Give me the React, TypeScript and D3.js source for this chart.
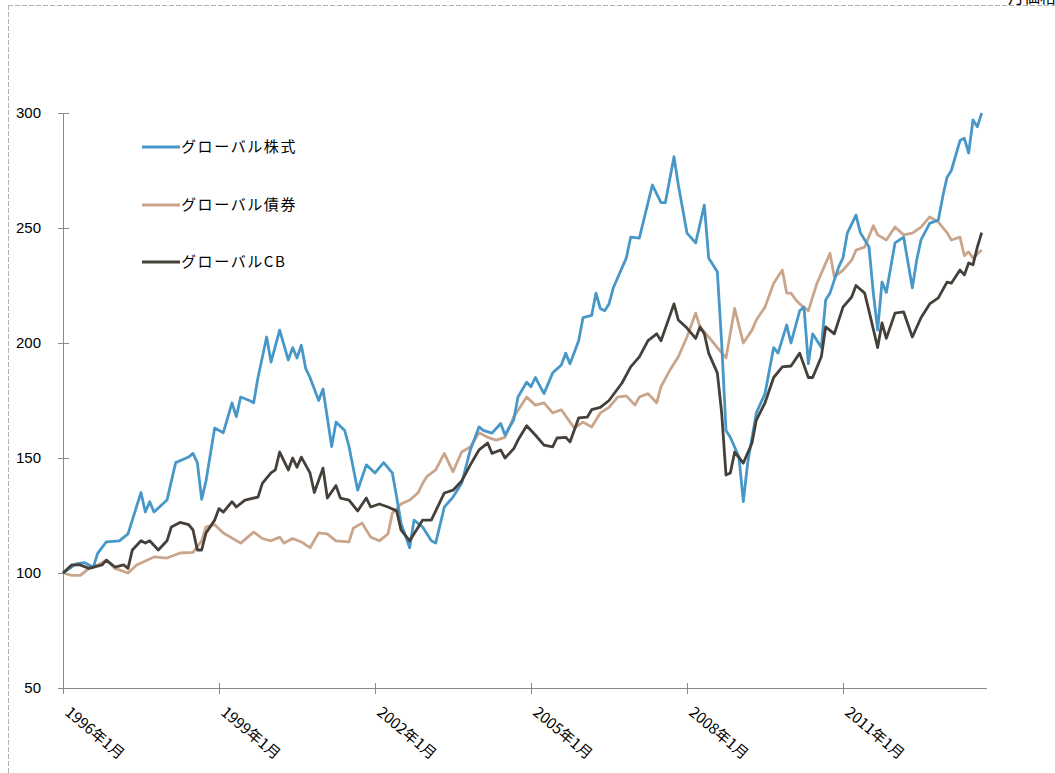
import React from "react";
import * as d3 from "d3";

// months counted from 1996年1月
const equityMonths = [0,3,5,7,8,10,13,15,18,19,20,21,24,26,29,30,31,32,33,35,37,39,40,41,43,44,45,47,48,50,52,53,54,55,56,57,59,60,62,63,65,66,68,70,72,74,76,77,78,80,81,83,85,86,88,90,92,94,96,97,99,101,102,104,105,107,108,109,111,113,115,116,117,119,120,122,123,124,125,126,127,130,131,133,136,138,139,141,142,144,146,148,149,151,152,153,154,156,157,158,160,162,164,165,167,168,170,171,172,173,175,176,177,179,180,181,183,184,186,187,188,189,190,192,194,196,197,198,200,202,203,204,205,207,208,209,210,211,212];
const equityValues = [100,104,104.5,102.5,108.5,113.5,114,117,135,126.5,131,126.5,131.7,148,150.4,152,148,132,140,163,161,174,168,176.5,175,174,185,202.6,191.7,205.6,192.6,198,193.5,199,189,185,175,180,155,165.6,162,155,136,147,143.5,148,143.5,133,121.7,111,123,120,114,113,128.7,133,139,153.5,163.5,162,160.8,165,160,166.5,176.5,183,181,185,178,187,190.4,195.6,191,201,211,212,221.7,215,214,217,224,237,246,245.6,268.7,261,261,281,268.7,247.8,243.5,260,237,231,200,162,159,150.4,131,147.8,169.6,178,198,195.6,207.8,200,214,215.6,191,204,198,218.7,221.7,233,237,247.8,255.6,248,241.7,221.7,205.6,226.5,222,243.5,246,224,236,244.8,252,253.5,263.5,272,275,288,289,282.6,297,294,300];

const bondMonths = [0,2,4,6,8,10,12,15,17,21,24,27,30,32,33,35,37,41,44,46,48,50,51,53,55,57,59,61,63,66,67,69,71,73,75,76,78,80,82,83,84,86,88,90,92,94,96,98,100,102,104,107,109,111,113,115,118,120,122,124,126,128,130,132,133,135,137,138,140,142,144,146,147,149,151,153,155,157,159,160,162,164,166,167,168,169,170,172,174,177,178,180,182,183,185,187,188,190,192,194,196,198,200,202,204,205,207,208,209,210,212];
const bondValues = [100,99,99,102,103.5,105.6,102,100,103.5,107,106.5,108.7,109,114,120,121,117.4,113,117.8,115,114,115.6,113,115,113.5,111,117.4,117,114,113.5,119.5,121.7,115.6,114,117,126,130,131.7,135,139,142,144.8,152,144,152.6,154.8,161,159,157.8,159,167.8,176.5,173,174,169.6,171,163,165.6,163.5,169.6,172,176.5,177,173,176.5,178,174,181,188,194,202.6,213,207,202.6,198,193.5,215,200,205.6,210,215.6,226,231.7,221.7,221.7,219,217,214,226,239,228.7,231.7,236,240.4,241.7,251,247,244.8,250.4,247,247.8,250.4,254.8,252.6,248,244.8,246,238,239.6,237,240.4];

const cbMonths = [0,2,4,6,9,10,12,14,15,16,18,19,20,22,24,25,27,29,30,31,32,33,35,36,37,39,40,42,45,46,48,49,50,52,53,54,55,57,58,60,61,63,64,66,68,70,71,73,75,77,78,80,82,83,85,88,90,92,94,96,98,99,101,102,104,105,107,109,111,113,114,116,117,119,121,122,124,126,129,131,133,135,137,138,141,142,144,146,147,148,149,151,152,153,154,155,157,159,160,162,164,166,168,170,172,173,175,176,178,180,182,183,185,186,188,189,190,192,194,196,198,200,202,204,205,207,208,209,210,211,212];
const cbValues = [100,103.5,103.5,102,103.5,105.6,102.6,103.5,102,110,114,113,114,110,114,120,122,121,118.7,110,110,117.4,123,128,126.5,131,128.7,131.7,133,139,143.5,144.8,152.6,144.8,150,146,150.4,143.5,135,145.6,132.6,138,132.6,131.7,127,132.6,128.7,130,128.7,127,118.7,114,120,123,123,134.8,136,140,147,153.5,156.5,152,153.5,150,154,157.8,164,160,155.6,154.8,158.7,159,157,167.4,167.8,171,172,175,182.6,189.6,194,201,204,201,217,210,206.5,202,207,204,195.6,187,169.6,142.6,143.5,152.6,147.8,156.5,166.5,174,185,189.6,190,195.6,185,185,194,207,204,215.6,220,225,221.7,214,198,208.7,202,213,213.5,202.6,211,217,219.6,226.5,226,231.7,229.6,234.8,234,241.7,248];

const seriesNames = ["グローバル株式", "グローバル債券", "グローバルCB"];
const seriesColors = ["#4798c8", "#c9a68b", "#45403a"];
const yTicks = [50, 100, 150, 200, 250, 300];
const xTickMonths = [0, 36, 72, 108, 144, 180];
const xTickLabels = ["1996年1月", "1999年1月", "2002年1月", "2005年1月", "2008年1月", "2011年1月"];

const W = 1055, H = 773;

export default function App() {
  const x = d3.scaleLinear().domain([0, 213]).range([63, 986]);
  const y = d3.scaleLinear().domain([50, 300]).range([688, 113]);
  const line = d3.line<[number, number]>().x(d => x(d[0])).y(d => y(d[1]));
  const series = [
    d3.zip(equityMonths, equityValues) as [number, number][],
    d3.zip(bondMonths, bondValues) as [number, number][],
    d3.zip(cbMonths, cbValues) as [number, number][],
  ];
  const font = "'Liberation Sans', 'Noto Sans CJK JP', sans-serif";
  const jfont = "'Noto Sans CJK JP', 'Liberation Sans', sans-serif";
  const legendY = [147, 205, 262];
  const drawOrder = [1, 0, 2];
  return (
    <svg width={W} height={H} style={{ position: "absolute", left: 0, top: 0, background: "#fff" }}>
      {/* frame */}
      <line x1={8} x2={W} y1={5.5} y2={5.5} stroke="#b0b0b0" strokeDasharray="5 2" />
      <line x1={8.5} x2={8.5} y1={5} y2={H} stroke="#b0b0b0" strokeDasharray="5 2" />
      <text x={1008} y={3} fontFamily={jfont} fontSize={16} fill="#000">月価格</text>

      {/* y axis */}
      <line x1={63.5} x2={63.5} y1={y(300)} y2={y(50)} stroke="#8a8a8a" />
      {yTicks.map(t => (
        <g key={t}>
          <line x1={58} x2={69} y1={Math.round(y(t)) + 0.5} y2={Math.round(y(t)) + 0.5} stroke="#8a8a8a" />
          <text x={41} y={y(t)} dy="0.36em" textAnchor="end" fontFamily={font} fontSize={15} fill="#000">{t}</text>
        </g>
      ))}

      {/* x axis */}
      <line x1={63} x2={987} y1={688.5} y2={688.5} stroke="#8a8a8a" />
      {xTickMonths.map((m, i) => (
        <g key={m}>
          <line x1={Math.round(x(m)) + 0.5} x2={Math.round(x(m)) + 0.5} y1={683} y2={694} stroke="#8a8a8a" />
          <text transform={`translate(${x(m) + 1},${714}) rotate(40)`} fontFamily={jfont} fontSize={15} fill="#000">{xTickLabels[i]}</text>
        </g>
      ))}

      {/* lines */}
      {drawOrder.map(i => (
        <path key={i} d={line(series[i]) || ""} fill="none" stroke={seriesColors[i]} strokeWidth={2.8} strokeLinejoin="round" />
      ))}

      {/* legend */}
      {seriesNames.map((n, i) => (
        <g key={n}>
          <line x1={142} x2={180} y1={legendY[i]} y2={legendY[i]} stroke={seriesColors[i]} strokeWidth={3} />
          <text x={181} y={legendY[i]} dy="0.36em" fontFamily={jfont} fontSize={15} fill="#000" letterSpacing={1.6}>{n}</text>
        </g>
      ))}
    </svg>
  );
}
